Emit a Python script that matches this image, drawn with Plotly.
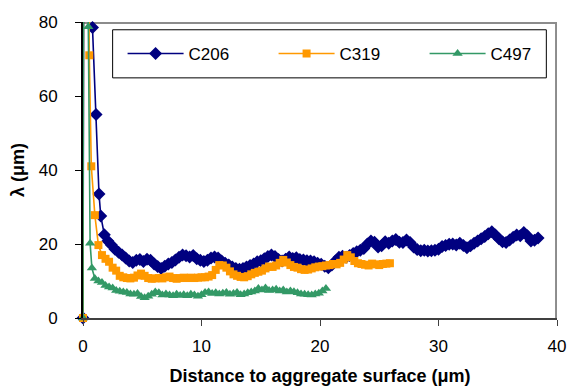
import numpy as np
import plotly.graph_objects as go

# Profiles of lambda versus distance to the aggregate surface.
# Each series: a few leading points near the surface, then a regularly
# sampled tail (start, step) with the measured values.
STEP = 0.3

c206_head_x = [0.0, 0.15, 0.8, 1.1, 1.35, 1.5]
c206_head_y = [0.0, 250.0, 78.5, 55.0, 33.5, 27.6]
c206_tail_start = 1.8
c206_tail_y = [
    22.5, 20.8, 19.7, 18.6, 17.8, 17.0, 16.2, 15.4, 15.0, 15.6,
    15.8, 15.3, 15.9, 15.6, 14.6, 13.9, 13.4, 14.0, 14.6, 15.0,
    15.7, 16.4, 17.0, 16.8, 16.5, 16.9, 16.0, 15.6, 15.3, 15.6,
    16.2, 16.5, 16.2, 15.4, 14.8, 14.3, 13.8, 13.4, 13.2, 13.4,
    13.8, 14.2, 14.6, 15.2, 15.5, 16.0, 16.6, 17.0, 16.6, 15.8,
    15.4, 15.9, 16.5, 16.1, 16.3, 15.8, 15.7, 15.5, 15.4, 15.2,
    14.8, 14.5, 14.0, 13.6, 14.3, 15.4, 16.4, 16.7, 16.4, 16.9,
    17.4, 17.9, 18.3, 18.8, 20.0, 20.8, 20.5, 19.2, 19.5, 20.6,
    20.2, 20.8, 21.2, 20.5, 20.4, 21.1, 20.4, 19.2, 18.5, 18.2,
    18.3, 18.1, 18.2, 18.3, 18.6, 19.3, 19.6, 19.9, 20.0, 19.7,
    20.2, 19.6, 19.0, 19.5, 20.2, 20.8, 21.4, 22.0, 22.8, 23.3,
    22.4, 21.4, 20.6, 20.4, 21.1, 21.8, 22.4, 22.2, 23.1, 22.2,
    20.8, 21.0, 21.6,
]

c319_head_x = [0.0, 0.1, 0.53, 0.7, 1.0]
c319_head_y = [0.0, 250.0, 71.0, 41.0, 27.8]
c319_tail_start = 1.3
c319_tail_y = [
    19.7, 17.0, 16.0, 15.2, 13.6, 12.8, 11.4, 11.0, 10.8, 10.7,
    10.9, 11.5, 12.0, 11.4, 10.8, 10.6, 10.7, 10.8, 10.7, 11.0,
    11.2, 10.8, 10.6, 10.8, 10.9, 10.8, 10.9, 10.8, 10.9, 11.0,
    11.0, 11.2, 11.6, 13.0, 14.3, 14.2, 13.6, 12.6, 11.8, 11.4,
    11.1, 11.0, 11.3, 11.8, 12.2, 12.5, 12.8, 13.4, 13.9, 13.8,
    14.2, 14.9, 15.7, 15.0, 14.3, 13.8, 13.6, 13.2, 13.0, 13.1,
    13.4, 13.7, 13.9, 14.0, 14.2, 14.3, 14.6, 14.5, 14.9, 15.8,
    17.0, 16.4, 15.4, 14.8, 14.6, 14.4, 14.2, 14.7, 14.5, 14.3,
    14.6, 14.7, 14.8,
]

c497_head_x = [0.0, 0.1, 0.45, 0.6, 0.75]
c497_head_y = [0.0, 250.0, 78.7, 20.2, 13.5]
c497_tail_start = 1.0
c497_tail_y = [
    10.7, 10.0, 9.6, 8.8, 8.4, 8.1, 7.4, 7.2, 7.0, 6.9,
    6.5, 6.4, 6.6, 5.8, 5.5, 5.9, 6.4, 7.0, 6.8, 6.2,
    6.5, 6.2, 6.0, 6.4, 6.1, 6.3, 6.0, 6.4, 6.2, 5.9,
    6.3, 6.9, 7.0, 6.6, 6.8, 6.5, 6.7, 6.9, 6.4, 6.6,
    6.9, 6.3, 6.5, 6.8, 7.0, 7.3, 8.0, 7.6, 8.1, 7.4,
    7.6, 7.8, 7.3, 7.6, 7.0, 7.3, 7.1, 6.8, 6.5, 6.4,
    6.3, 6.2, 6.5, 6.7, 7.3, 8.0,
]

x_ticks = [0, 10, 20, 30, 40]
y_ticks = [0, 20, 40, 60, 80]
X_RANGE = [0, 40]
Y_RANGE = [0, 80]


def profile(head_x, head_y, start, tail_y):
    tail_x = np.round(start + STEP * np.arange(len(tail_y)), 2)
    return list(head_x) + list(tail_x), list(head_y) + list(tail_y)


series = [
    ("C206", profile(c206_head_x, c206_head_y, c206_tail_start, c206_tail_y),
     "#000080", "diamond", 10),
    ("C319", profile(c319_head_x, c319_head_y, c319_tail_start, c319_tail_y),
     "#FF9900", "square", 8),
    ("C497", profile(c497_head_x, c497_head_y, c497_tail_start, c497_tail_y),
     "#339966", "triangle-up", 9),
]

FONT = "Liberation Sans, Arial, sans-serif"
FRAME_GREY = "#8c8c8c"

fig = go.Figure()

# light top and right frame edges, drawn just inside the axes range
x_edge = X_RANGE[1] - 0.08
y_edge = Y_RANGE[1] - 0.25
fig.add_trace(go.Scatter(
    x=[X_RANGE[0], x_edge, x_edge], y=[y_edge, y_edge, Y_RANGE[0]],
    mode="lines", line=dict(color=FRAME_GREY, width=2),
    showlegend=False, hoverinfo="skip",
))

for name, (xs, ys), color, symbol, size in series:
    fig.add_trace(go.Scatter(
        x=xs, y=ys, name=name, mode="lines+markers",
        line=dict(color=color, width=1.6),
        marker=dict(color=color, symbol=symbol, size=size, line=dict(width=0)),
        cliponaxis=False,
    ))

fig.update_layout(
    width=570, height=390,
    margin=dict(l=83, r=13, t=22, b=72, autoexpand=False),
    paper_bgcolor="white", plot_bgcolor="white",
    font=dict(family=FONT, size=17, color="black"),
    showlegend=True,
    legend=dict(
        orientation="h", x=0.0835, y=0.892, xanchor="left", yanchor="middle",
        bgcolor="rgba(0,0,0,0)", borderwidth=0,
        font=dict(size=17), entrywidth=80, itemwidth=56,
    ),
    xaxis=dict(
        range=X_RANGE, tickvals=x_ticks, showgrid=False, zeroline=False,
        showline=True, linecolor="#404040", linewidth=2,
        ticks="outside", ticklen=6, tickcolor="#404040", tickwidth=1,
        ticklabelstandoff=6,
        title=dict(text="<b>Distance to aggregate surface (μm)</b>",
                   font=dict(size=18), standoff=14),
    ),
    yaxis=dict(
        range=Y_RANGE, tickvals=y_ticks, showgrid=False, zeroline=False,
        showline=True, linecolor="black", linewidth=2,
        ticks="outside", ticklen=6, tickcolor="black", tickwidth=1,
        ticklabelstandoff=14,
        title=dict(text="<b>λ (μm)</b>", font=dict(size=18), standoff=9),
    ),
)

# legend frame
fig.add_shape(type="rect", xref="x", yref="y",
              x0=2.5, x1=39.1, y0=64.9, y1=77.9,
              line=dict(color="black", width=1), fillcolor="white",
              layer="above")

fig.write_html("out.html")
